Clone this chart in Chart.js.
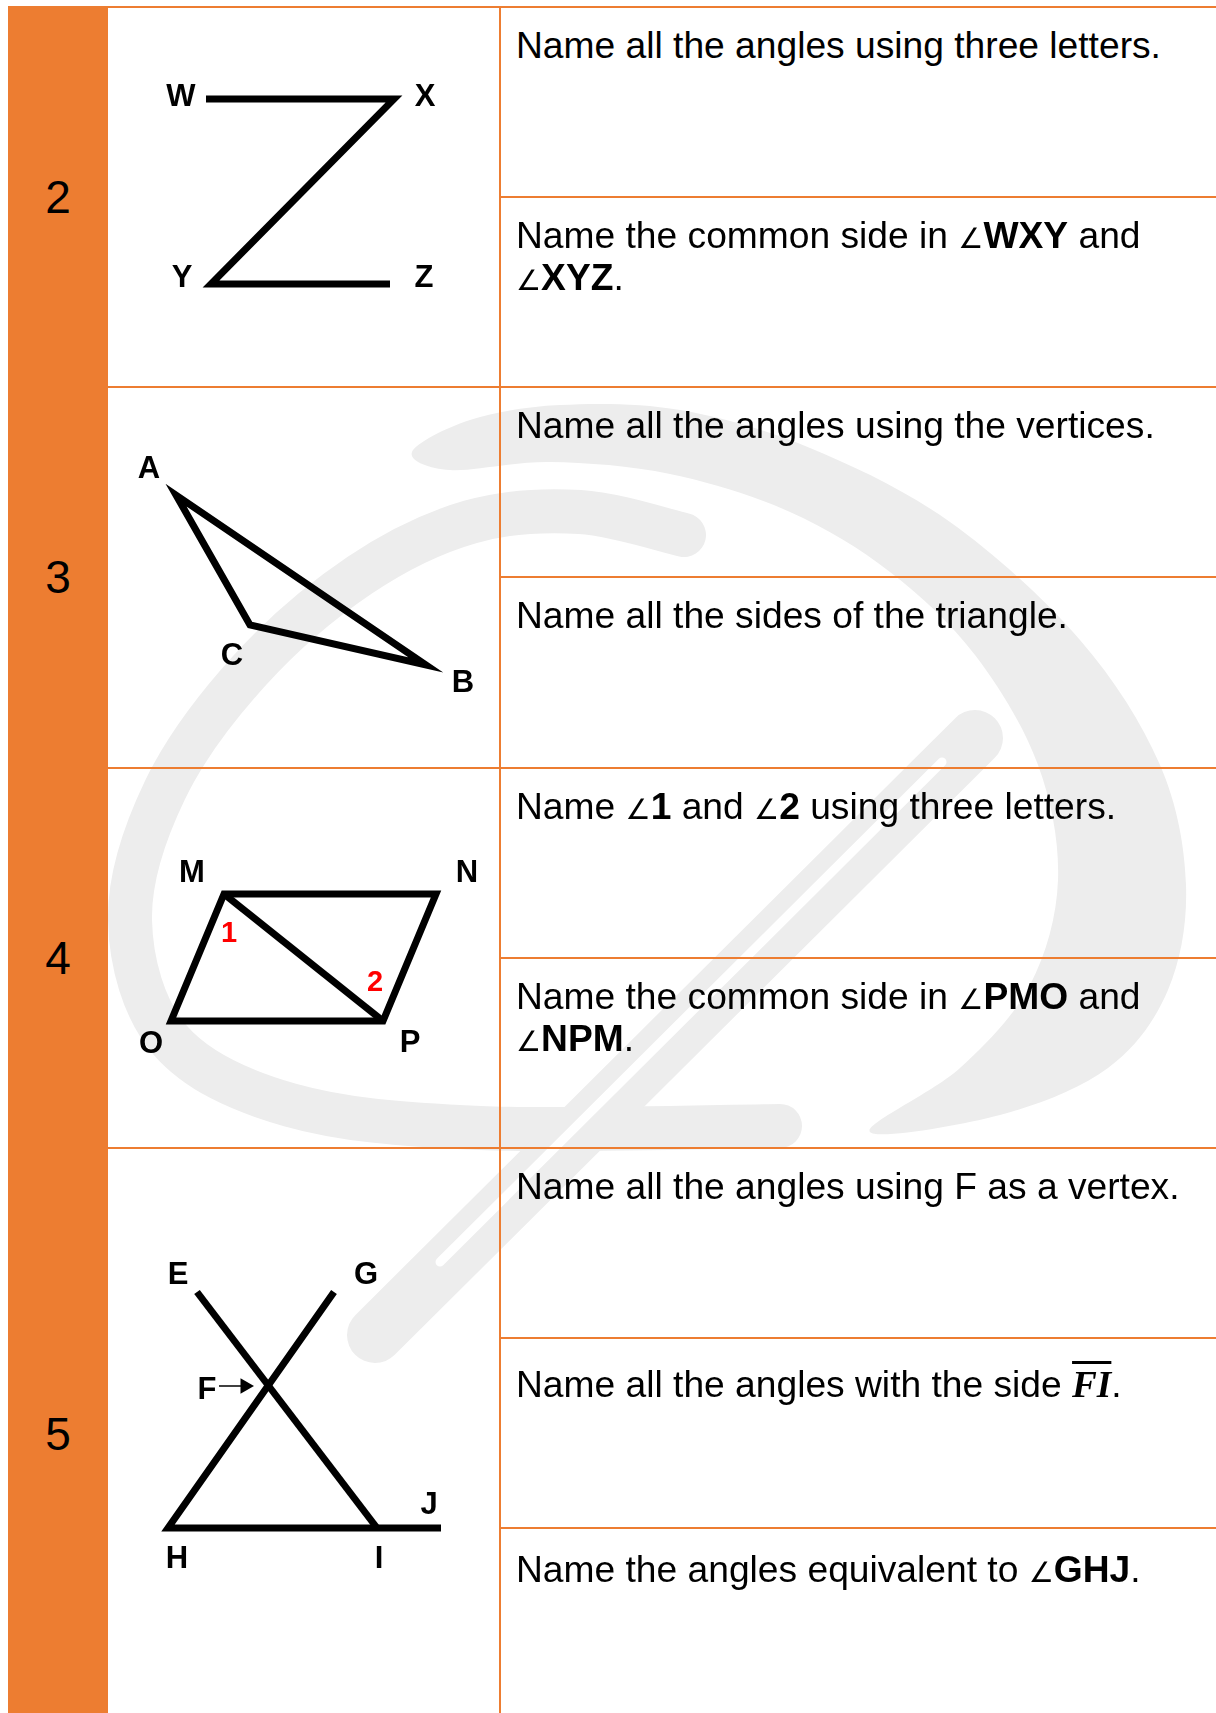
<!DOCTYPE html>
<html lang="en">
<head>
<meta charset="utf-8">
<title>Angles worksheet</title>
<script src="https://cdn.jsdelivr.net/npm/chart.js@4.4.1/dist/chart.umd.min.js"></script>
<style>
  html, body { margin: 0; padding: 0; background: #fff; }
  body {
    position: relative; width: 1216px; height: 1713px; overflow: hidden;
    font-family: Arial, "Liberation Sans", sans-serif; color: #000;
  }
  .wm { position: absolute; left: 0; top: 0; z-index: 0; }
  .num-col { position: absolute; left: 8px; top: 6px; width: 100px; height: 1720px; background: #ED7D31; z-index: 2; }
  .num { position: absolute; left: 8px; width: 100px; text-align: center; font-size: 46px; line-height: 46px; z-index: 3; }
  .hl { position: absolute; height: 2px; background: #ED7D31; z-index: 2; }
  .vl { position: absolute; width: 2px; background: #ED7D31; z-index: 2; }
  .q {
    position: absolute; left: 501px; width: 715px; height: 188px; box-sizing: border-box;
    padding: 16px 0 0 15px; font-size: 37.2px; line-height: 42px; white-space: nowrap; z-index: 3;
  }
  .q b { font-weight: bold; }
  .ang { font-family: "DejaVu Sans", sans-serif; font-size: 28px; line-height: 0; }
  .seg { font-family: "Liberation Serif", serif; font-weight: bold; font-style: italic; line-height: 0;
         text-decoration: overline; text-decoration-thickness: 3px; }
  canvas.fig { position: absolute; left: 109px; z-index: 1; }
</style>
</head>
<body>

<!-- faint logo watermark behind the table -->
<svg class="wm" width="1216" height="1713" viewBox="0 0 1216 1713">
  <path id="ring" fill="#ededed"/>
  <g fill="none" stroke="#ededed" stroke-linecap="round" stroke-linejoin="round">
    <path id="curl" stroke-width="44"/>
    <path d="M375 1335 L 975 738" stroke-width="56"/>
    <path d="M440 1262 L 942 762" stroke="#ffffff" stroke-width="9"/>
  </g>
</svg>

<div class="num-col"></div>
<div class="num" style="top:174px">2</div>
<div class="num" style="top:554px">3</div>
<div class="num" style="top:935px">4</div>
<div class="num" style="top:1411px">5</div>

<div id="grid"></div>

<canvas class="fig" id="fig2" width="390" height="379" style="top:8px"></canvas>
<canvas class="fig" id="fig3" width="390" height="380" style="top:388px"></canvas>
<canvas class="fig" id="fig4" width="390" height="379" style="top:769px"></canvas>
<canvas class="fig" id="fig5" width="390" height="564" style="top:1149px"></canvas>

<div class="q" style="top:8px">Name all the angles using three letters.</div>
<div class="q" style="top:198px">Name the common side in <span class="ang">∠</span><b>WXY</b> and<br><span class="ang">∠</span><b>XYZ</b>.</div>
<div class="q" style="top:388px">Name all the angles using the vertices.</div>
<div class="q" style="top:578px">Name all the sides of the triangle.</div>
<div class="q" style="top:769px">Name <span class="ang">∠</span><b>1</b> and <span class="ang">∠</span><b>2</b> using three letters.</div>
<div class="q" style="top:959px">Name the common side in <span class="ang">∠</span><b>PMO</b> and<br><span class="ang">∠</span><b>NPM</b>.</div>
<div class="q" style="top:1149px">Name all the angles using F as a vertex.</div>
<div class="q" style="top:1339px; padding-top:24px">Name all the angles with the side <span class="seg">FI</span>.</div>
<div class="q" style="top:1529px; padding-top:19px">Name the angles equivalent to <span class="ang">∠</span><b>GHJ</b>.</div>

<script>
(function () {
  "use strict";

  // ── Figure data (local units of each figure cell, y grows downward) ──

  // Row 2 – the Z shape W-X-Y-Z
  const zPathX  = [97, 285, 102, 281];
  const zPathY  = [91, 91, 276, 276];
  const zNames  = ["W", "X", "Y", "Z"];
  const zNameX  = [72, 316, 73, 315];
  const zNameY  = [87, 87, 268, 268];

  // Row 3 – triangle A-C-B
  const triX     = [67, 141, 317];
  const triY     = [107, 237, 277];
  const triNames = ["A", "C", "B"];
  const triNameX = [40, 123, 354];
  const triNameY = [79, 266, 293];

  // Row 4 – parallelogram M-N-P-O with diagonal M-P
  const quadX     = [115, 327, 274, 62];
  const quadY     = [125, 125, 252, 252];
  const diagX     = [115, 274];
  const diagY     = [125, 252];
  const quadNames = ["M", "N", "P", "O"];
  const quadNameX = [83, 358, 301, 42];
  const quadNameY = [102, 102, 272, 273];
  const markNames = ["1", "2"];
  const markX     = [120, 266];
  const markY     = [163, 212];

  // Row 5 – crossing lines E-I and G-H, ray H-J
  const lineEIX   = [88, 268];
  const lineEIY   = [143, 379];
  const lineGHJX  = [225, 59, 332];
  const lineGHJY  = [143, 379, 379];
  const arrowX    = [110, 135];
  const arrowY    = [237, 237];
  const arrowTipX = [136];
  const arrowTipY = [237];
  const xNames    = ["E", "G", "F", "H", "I", "J"];
  const xNameX    = [69, 257, 98, 68, 270, 320];
  const xNameY    = [124, 124, 239, 408, 408, 354];

  // ── Layout of the orange table ──
  const rowLinesY  = [387, 768, 1148];
  const cellLinesY = [197, 577, 958, 1338, 1528];

  // watermark shapes, page coordinates
  const ringPts = [
    [412, 452], [470, 420], [560, 405], [680, 410], [810, 448], [950, 522], [1080, 640],
    [1160, 765], [1186, 885], [1168, 990], [1108, 1068], [1000, 1115], [870, 1132],
    [960, 1068], [1030, 985], [1058, 880], [1038, 765], [975, 655], [890, 572],
    [790, 512], [670, 474], [550, 462], [450, 470],
  ];
  const curlPts = [
    [684, 535], [580, 512], [470, 522], [360, 575], [250, 670], [165, 790],
    [130, 920], [170, 1040], [290, 1105], [480, 1128], [780, 1126],
  ];

  const ORANGE = "#ED7D31";
  const INK    = "#000000";
  const RED    = "#FF0000";
  const LABEL_FONT = '"Liberation Sans", Arial, sans-serif';

  // ── Watermark paths (Catmull-Rom through the points) ──
  function smoothPath(p, close) {
    const n = p.length;
    const at = i => close ? p[(i + n) % n] : p[Math.min(Math.max(i, 0), n - 1)];
    let d = `M${p[0][0]} ${p[0][1]}`;
    const last = close ? n : n - 1;
    for (let i = 0; i < last; i++) {
      const p0 = at(i - 1), p1 = at(i), p2 = at(i + 1), p3 = at(i + 2);
      const c1x = p1[0] + (p2[0] - p0[0]) / 6, c1y = p1[1] + (p2[1] - p0[1]) / 6;
      const c2x = p2[0] - (p3[0] - p1[0]) / 6, c2y = p2[1] - (p3[1] - p1[1]) / 6;
      d += ` C${c1x} ${c1y} ${c2x} ${c2y} ${p2[0]} ${p2[1]}`;
    }
    return close ? d + " Z" : d;
  }
  document.getElementById("ring").setAttribute("d", smoothPath(ringPts, true));
  document.getElementById("curl").setAttribute("d", smoothPath(curlPts, false));

  // ── Table rules ──
  const $grid = document.getElementById("grid");
  function rule(cls, style) {
    const d = document.createElement("div");
    d.className = cls;
    Object.assign(d.style, style);
    $grid.appendChild(d);
  }
  rule("hl", { left: "8px", top: "6px", width: "1208px" });
  rowLinesY.forEach(y => rule("hl", { left: "108px", top: (y - 1) + "px", width: "1108px" }));
  cellLinesY.forEach(y => rule("hl", { left: "500px", top: (y - 1) + "px", width: "716px" }));
  rule("vl", { left: "499px", top: "6px", height: "1710px" });

  // ── Label plugin: letters placed through the chart scales ──
  const figureLabels = {
    id: "figureLabels",
    afterDatasetsDraw(chart, args, opts) {
      const { ctx, scales: { x, y } } = chart;
      ctx.save();
      ctx.textAlign = "center";
      ctx.textBaseline = "alphabetic";
      (opts.groups || []).forEach(g => {
        ctx.font = `bold ${g.size}px ${LABEL_FONT}`;
        ctx.fillStyle = g.color;
        g.text.forEach((t, i) => {
          ctx.fillText(t, x.getPixelForValue(g.xs[i]), y.getPixelForValue(g.ys[i]) + g.size * 0.358);
        });
      });
      ctx.restore();
    },
  };

  // ── Helpers ──
  const pts = (xs, ys) => xs.map((x, i) => ({ x, y: ys[i] }));
  const closed = arr => [...arr, arr[0], arr[1]];

  function stroke(xs, ys, width) {
    return {
      data: pts(xs, ys),
      showLine: true,
      borderColor: INK,
      borderWidth: width,
      borderJoinStyle: "miter",
      borderCapStyle: "butt",
      pointRadius: 0,
      tension: 0,
      fill: false,
      clip: false,
    };
  }

  function buildFigure(id, datasets, groups) {
    const el = document.getElementById(id);
    return new Chart(el, {
      type: "scatter",
      data: { datasets },
      options: {
        responsive: false,
        animation: false,
        devicePixelRatio: 1,
        events: [],
        layout: { padding: 0, autoPadding: false },
        plugins: {
          legend: { display: false },
          tooltip: { enabled: false },
          figureLabels: { groups },
        },
        scales: {
          x: { type: "linear", min: 0, max: el.width, display: false },
          y: { type: "linear", min: 0, max: el.height, reverse: true, display: false },
        },
      },
      plugins: [figureLabels],
    });
  }

  // ── Figures ──
  buildFigure("fig2",
    [stroke(zPathX, zPathY, 7)],
    [{ text: zNames, xs: zNameX, ys: zNameY, size: 31, color: INK }]);

  buildFigure("fig3",
    [stroke(closed(triX), closed(triY), 7)],
    [{ text: triNames, xs: triNameX, ys: triNameY, size: 31, color: INK }]);

  buildFigure("fig4",
    [stroke(closed(quadX), closed(quadY), 7), stroke(diagX, diagY, 7)],
    [
      { text: quadNames, xs: quadNameX, ys: quadNameY, size: 31, color: INK },
      { text: markNames, xs: markX, ys: markY, size: 29, color: RED },
    ]);

  buildFigure("fig5",
    [
      stroke(lineEIX, lineEIY, 7),
      stroke(lineGHJX, lineGHJY, 7),
      stroke(arrowX, arrowY, 1.5),
      {
        data: pts(arrowTipX, arrowTipY),
        pointStyle: "triangle",
        rotation: 90,
        pointRadius: 9,
        backgroundColor: INK,
        borderWidth: 0,
        showLine: false,
        clip: false,
      },
    ],
    [{ text: xNames, xs: xNameX, ys: xNameY, size: 31, color: INK }]);

})();
</script>
</body>
</html>
